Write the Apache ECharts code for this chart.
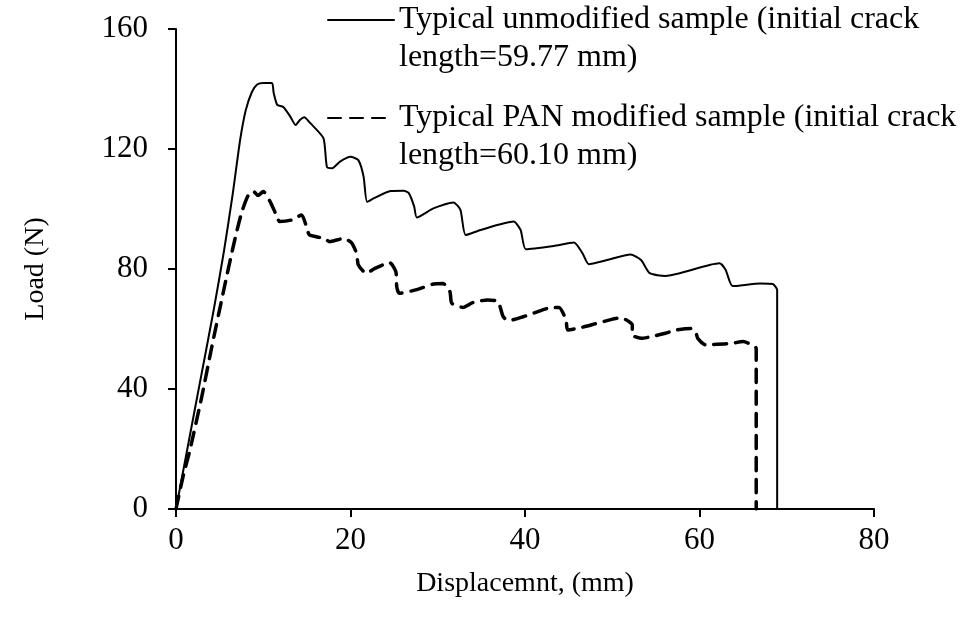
<!DOCTYPE html>
<html>
<head>
<meta charset="utf-8">
<script src="https://cdn.jsdelivr.net/npm/echarts@6/dist/echarts.min.js"></script>
<style>
html,body{margin:0;padding:0;background:#fff;}
#chart{width:969px;height:627px;}
</style>
</head>
<body>
<div id="chart"></div>
<script>
// Data
const seriesNames = [
  'Typical unmodified sample (initial crack\nlength=59.77 mm)',
  'Typical PAN modified sample (initial crack\nlength=60.10 mm)'
];
const xTicks = [0, 20, 40, 60, 80];
const yTicks = [0, 40, 80, 120, 160];

const unmodX = [0, 2.6, 4.3, 5.5, 6.5, 7.35, 8.0, 8.7, 9.3, 10.0, 11.0, 11.2, 11.6, 12.3, 13.1, 13.7, 14.2, 14.7, 15.4, 16.9, 17.3, 17.9, 18.8, 20.0, 20.9, 21.5, 21.9, 22.7, 24.6, 26.1, 26.7, 27.3, 27.6, 29.5, 31.8, 32.6, 33.2, 34.9, 38.7, 39.5, 40.1, 43.3, 45.6, 46.6, 47.3, 49.4, 52.1, 53.3, 54.3, 56.1, 62.3, 63.0, 63.8, 67.0, 68.4, 68.9, 68.9];
const unmodY = [0, 40, 66, 86, 105, 123, 133, 139, 141.5, 142, 142, 138.6, 134.7, 134, 130.8, 128, 129.7, 130.6, 128.6, 123.6, 114, 113.6, 115.8, 117.4, 116.3, 110.8, 102.4, 103.6, 106, 106.1, 105.2, 100.8, 97.2, 100.2, 102.2, 99.7, 91.3, 93, 95.8, 93, 86.6, 87.7, 88.8, 85.2, 81.6, 83, 84.8, 83, 78.6, 77.7, 81.9, 79.7, 74.3, 75.2, 75, 73, 0];

const panX = [0, 0.8, 1.6, 2.95, 4.1, 5.4, 6.6, 7.5, 8.3, 8.9, 9.4, 10.0, 10.8, 11.4, 11.9, 13.2, 14.4, 15.0, 15.3, 17.0, 17.6, 19.2, 20.1, 20.7, 20.9, 21.8, 22.8, 24.5, 25.2, 25.3, 25.6, 27.7, 29.5, 30.6, 31.4, 31.6, 32.9, 34.0, 35.7, 36.9, 37.5, 38.1, 39.8, 41.1, 42.6, 43.9, 44.7, 44.9, 46.6, 48.0, 49.4, 50.6, 51.5, 52.3, 52.3, 53.3, 54.4, 56.1, 57.4, 59.0, 59.6, 59.8, 60.7, 62.0, 63.7, 65.0, 66.3, 66.5, 66.5];
const panY = [0, 10.7, 19.7, 37.4, 54, 72, 88, 98.6, 104.7, 105.8, 104.5, 105.8, 102.4, 98.6, 95.8, 96.3, 98, 93.6, 91.3, 90.2, 89.1, 90.2, 88.8, 85.2, 81.3, 78.6, 80.2, 82.1, 79.1, 74.1, 71.9, 73.2, 75, 75.2, 72.4, 68.6, 67.2, 68.8, 69.7, 69.1, 64.1, 62.8, 64.1, 65.4, 66.9, 67.2, 63, 59.7, 60.6, 61.7, 62.8, 63.6, 63.2, 61.3, 58, 56.9, 57.4, 58.6, 59.7, 60.2, 58.6, 56.9, 54.7, 54.9, 55.2, 55.8, 54.3, 53.5, 0];

const pairs = (xs, ys) => xs.map((x, i) => [x, ys[i]]);

const FONT = 'Liberation Serif';
const LH = 38;
const chart = echarts.init(document.getElementById('chart'));
chart.setOption({
  animation: false,
  backgroundColor: '#fff',
  textStyle: { fontFamily: FONT, color: '#000' },
  grid: { left: 176, right: 95, top: 29, bottom: 118, containLabel: false },
  legend: {
    orient: 'vertical',
    left: 327,
    top: 20 - LH * 1.5,
    padding: 0,
    itemWidth: 66,
    itemHeight: 10,
    itemGap: 98 - LH * 3,
    data: seriesNames,
    // leading blank line so the first text line sits level with the key line
    formatter: name => ' \n' + name,
    itemStyle: { opacity: 0 },
    textStyle: { fontFamily: FONT, fontSize: 32, color: '#000', lineHeight: LH }
  },
  xAxis: {
    type: 'value',
    min: xTicks[0], max: xTicks[xTicks.length - 1], interval: 20,
    name: 'Displacemnt, (mm)',
    nameLocation: 'middle',
    nameGap: 61,
    nameTextStyle: { fontFamily: FONT, fontSize: 28, color: '#000' },
    axisLine: { lineStyle: { color: '#000', width: 2 } },
    axisTick: { show: true, inside: false, length: 8, lineStyle: { color: '#000', width: 2 } },
    axisLabel: { fontFamily: FONT, fontSize: 31, color: '#000', margin: 16 },
    splitLine: { show: false }
  },
  yAxis: {
    type: 'value',
    min: yTicks[0], max: yTicks[yTicks.length - 1], interval: 40,
    name: 'Load (N)',
    nameLocation: 'middle',
    nameGap: 126,
    nameRotate: 90,
    nameTextStyle: { fontFamily: FONT, fontSize: 28, color: '#000' },
    axisLine: { show: true, lineStyle: { color: '#000', width: 2 } },
    axisTick: { show: true, inside: false, length: 8, lineStyle: { color: '#000', width: 2 } },
    axisLabel: { fontFamily: FONT, fontSize: 31, color: '#000', margin: 28 },
    splitLine: { show: false }
  },
  series: [
    {
      name: seriesNames[0],
      type: 'line',
      data: pairs(unmodX, unmodY),
      symbol: 'none',
      smooth: 0.2,
      lineStyle: { color: '#000', width: 2, type: 'solid', cap: 'round', join: 'round' },
      itemStyle: { color: '#000' }
    },
    {
      name: seriesNames[1],
      type: 'line',
      data: pairs(panX, panY),
      symbol: 'none',
      smooth: 0.2,
      lineStyle: { color: '#000', width: 3.5, type: [13, 9], cap: 'round', join: 'round' },
      itemStyle: { color: '#000' }
    }
  ]
});
</script>
</body>
</html>
